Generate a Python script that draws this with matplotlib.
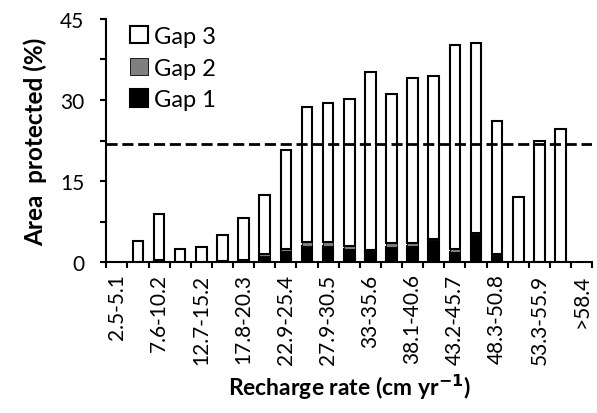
import matplotlib
matplotlib.use('Agg')
import matplotlib.pyplot as plt
import numpy as np

plt.rcParams['font.family'] = ['Lato', 'DejaVu Sans']

# Recharge-rate classes (cm/yr)
categories = ['2.5-5.1', '5.1-7.6', '7.6-10.2', '10.2-12.7', '12.7-15.2', '15.2-17.8',
              '17.8-20.3', '20.3-22.9', '22.9-25.4', '25.4-27.9', '27.9-30.5', '30.5-33',
              '33-35.6', '35.6-38.1', '38.1-40.6', '40.6-43.2', '43.2-45.7', '45.7-48.3',
              '48.3-50.8', '50.8-53.3', '53.3-55.9', '55.9-58.4', '>58.4']

# Area protected (%) per GAP status
gap1 = [0, 0.1, 0.4, 0.1, 0.1, 0.2, 0.4, 1.2, 2.1, 3.0, 3.1, 2.5,
        2.1, 2.8, 3.1, 4.2, 1.9, 5.2, 1.3, 0.1, 0.1, 0.1, 0]
gap2 = [0, 0, 0.1, 0, 0, 0, 0.1, 0.3, 0.4, 0.7, 0.7, 0.5,
        0.2, 0.7, 0.4, 0.2, 0.5, 0.2, 0.2, 0, 0, 0, 0]
gap3 = [0, 3.9, 8.5, 2.3, 2.8, 4.8, 7.7, 10.9, 18.3, 25.0, 25.7, 27.2,
        32.9, 27.7, 30.6, 30.1, 37.7, 35.1, 24.7, 12.0, 22.3, 24.6, 0]

# overall average (dashed line)
mean_protected = 21.8

x = np.arange(len(categories))
g1 = np.array(gap1)
g2 = np.array(gap2)
g3 = np.array(gap3)
nonzero = (g1 + g2 + g3) > 0

fig = plt.figure(figsize=(5.97, 4.14), dpi=100)
ax = fig.add_axes([0.178, 0.364, 0.814, 0.588])

bw = 0.5
ax.bar(x[nonzero], g1[nonzero], bw, color='black', edgecolor='black', linewidth=1.5, label='Gap 1', zorder=2)
ax.bar(x[nonzero], g2[nonzero], bw, bottom=g1[nonzero], color='#7f7f7f', edgecolor='black',
       linewidth=0.6, label='Gap 2', zorder=2)
ax.bar(x[nonzero], g3[nonzero], bw, bottom=(g1 + g2)[nonzero], color='white', edgecolor='black',
       linewidth=1.5, label='Gap 3', zorder=2)

ax.axhline(mean_protected, color='black', linestyle=(0, (4, 1.7)), linewidth=2, zorder=3)

ax.set_xlim(-0.5, len(categories) - 0.5)
ax.set_ylim(0, 45)

# ticks at class boundaries, labels on every other class
ax.set_xticks(np.arange(-0.5, len(categories), 1.0))
ax.set_xticklabels([])
ax.set_xticks(x[::2], minor=True)
ax.set_xticklabels(categories[::2], minor=True, rotation=90, fontsize=15)
ax.tick_params(axis='x', which='major', direction='out', length=4, width=1.5)
ax.tick_params(axis='x', which='minor', length=0, pad=8)

yt = np.arange(0, 45.1, 7.5)
ax.set_yticks(yt)
ax.set_yticklabels([f'{int(v)}' if v % 15 == 0 else '' for v in yt], fontsize=15)
ax.tick_params(axis='y', direction='out', length=4, width=1.5, pad=12)

for s in ['top', 'right']:
    ax.spines[s].set_visible(False)
for s in ['left', 'bottom']:
    ax.spines[s].set_linewidth(1.5)

ax.set_ylabel('Area  protected (%)', fontsize=17.5, fontweight='bold', labelpad=9)
ax.set_xlabel('Recharge rate (cm yr$^{\\mathbf{-1}}$)', fontsize=16.5, fontweight='bold', labelpad=6)

handles, labels = ax.get_legend_handles_labels()
leg = ax.legend(handles[::-1], labels[::-1], loc='upper left', bbox_to_anchor=(0.03, 1.01),
                frameon=False, fontsize=17, handlelength=0.75, handleheight=0.75,
                handletextpad=0.25, labelspacing=0.45, borderaxespad=0)

fig.savefig('out.png', dpi=100)
